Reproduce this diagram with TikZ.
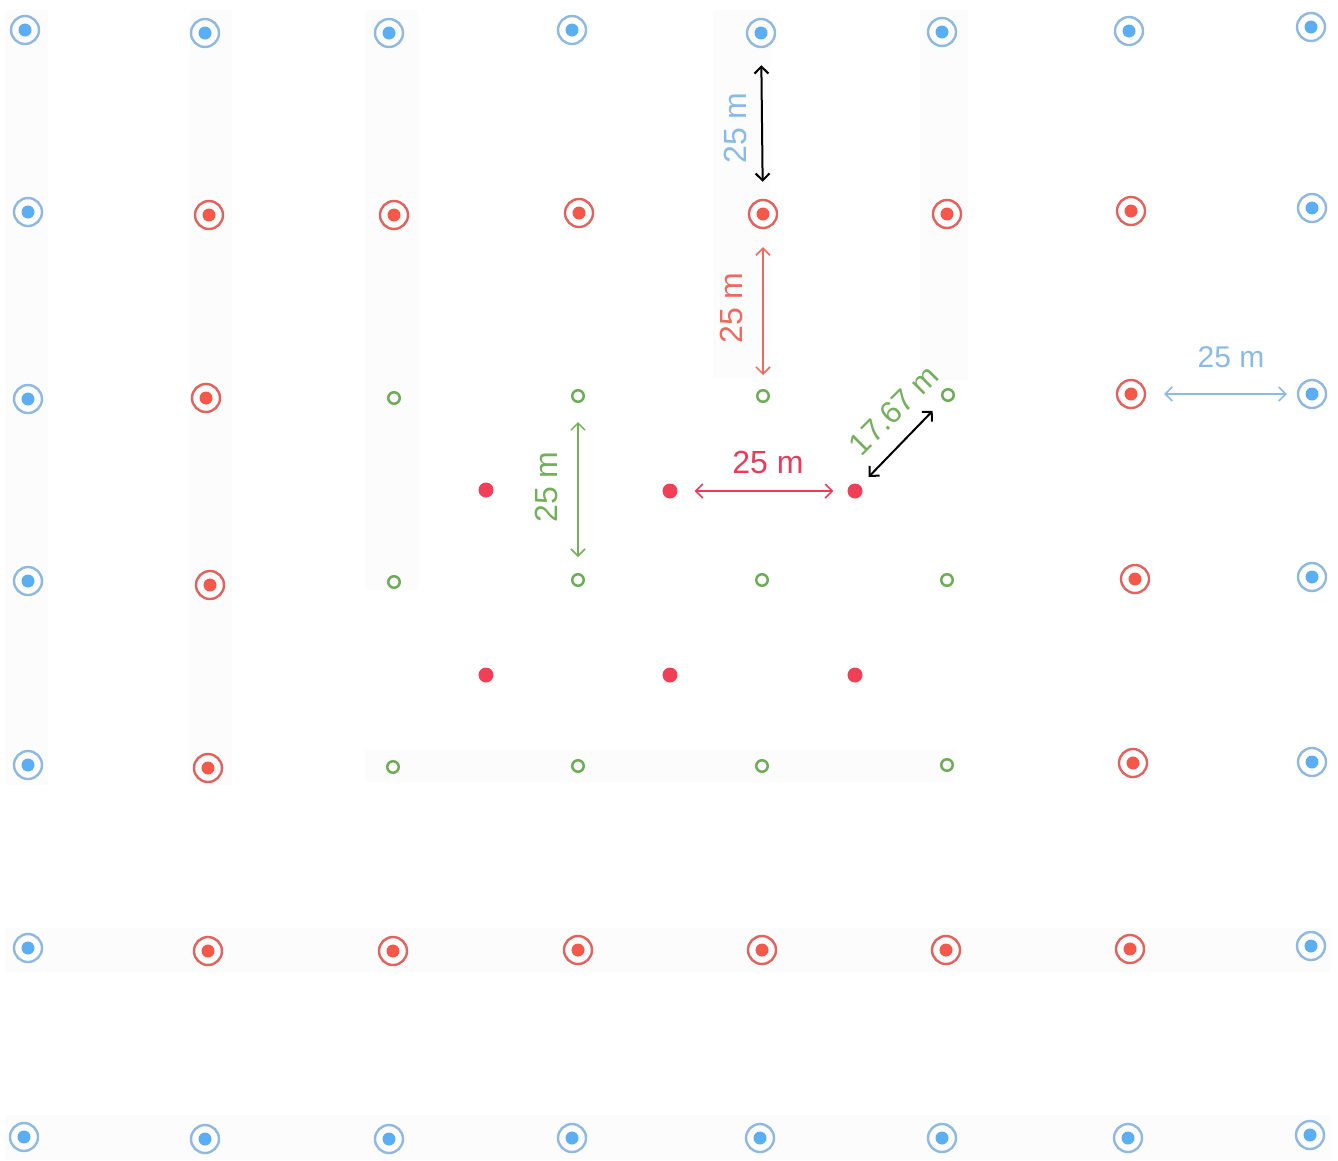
\documentclass[tikz,border=0pt]{standalone}
\usepackage{fontspec}
\setmainfont{Liberation Sans}
\usetikzlibrary{arrows.meta}
\definecolor{bring}{HTML}{8FB9E2}
\definecolor{bdot}{HTML}{5CAEF2}
\definecolor{rring}{HTML}{E2625E}
\definecolor{rdot}{HTML}{F4584A}
\definecolor{gring}{HTML}{6CAE55}
\definecolor{cdot}{HTML}{F23F58}
\definecolor{btext}{HTML}{8ABAE8}
\definecolor{rtext}{HTML}{EE6A5C}
\definecolor{ctext}{HTML}{E83C58}
\definecolor{gtext}{HTML}{72B05A}
\definecolor{band}{HTML}{FCFCFC}
\tikzset{
 well/.style={circle, inner sep=0pt, minimum size=28pt, line width=2.4pt},
 bluept/.style={well, draw=bring, path picture={\fill[bdot] (path picture bounding box.center) circle (6.5pt);}},
 redpt/.style={well, draw=rring, path picture={\fill[rdot] (path picture bounding box.center) circle (6.5pt);}},
 greenpt/.style={circle, inner sep=0pt, minimum size=11.5pt, line width=2.5pt, draw=gring},
 sample/.style={circle, inner sep=0pt, minimum size=15pt, fill=cdot},
 dim/.style={{Straight Barb[length=7pt,width=14pt]}-{Straight Barb[length=7pt,width=14pt]}, line width=1.5pt},
 lbl/.style={font=\fontsize{32}{38}\selectfont, inner sep=0pt},
 bandbox/.style={fill=band, draw=none},
}
\begin{document}
\begin{tikzpicture}[x=1pt,y=-1pt]
\useasboundingbox (0,0) rectangle (1338,1160);
% faint background bands
\fill[bandbox] (5,10) rectangle (48,785);
\fill[bandbox] (190,10) rectangle (232,785);
\fill[bandbox] (365,10) rectangle (418,590);
\fill[bandbox] (713,10) rectangle (770,378);
\fill[bandbox] (920,10) rectangle (968,380);
\fill[bandbox] (365,750) rectangle (955,782);
\fill[bandbox] (5,928) rectangle (1330,972);
\fill[bandbox] (5,1115) rectangle (1330,1160);
% row 1
\node[bluept] (p11) at (25,30) {};
\node[bluept] (p12) at (205,33) {};
\node[bluept] (p13) at (389,33) {};
\node[bluept] (p14) at (572,30) {};
\node[bluept] (p15) at (761,33) {};
\node[bluept] (p16) at (942,32) {};
\node[bluept] (p17) at (1129,31) {};
\node[bluept] (p18) at (1311,27) {};
% row 2
\node[bluept] (p21) at (28,212) {};
\node[redpt] (p22) at (209,215) {};
\node[redpt] (p23) at (394,215) {};
\node[redpt] (p24) at (579,213) {};
\node[redpt] (p25) at (763,214) {};
\node[redpt] (p26) at (947,214) {};
\node[redpt] (p27) at (1131,211) {};
\node[bluept] (p28) at (1312,208) {};
% row 3
\node[bluept] (p31) at (28,399) {};
\node[redpt] (p32) at (206,398) {};
\node[greenpt] (p33) at (394,398) {};
\node[greenpt] (p34) at (578,396) {};
\node[greenpt] (p35) at (763,396) {};
\node[greenpt] (p36) at (948,395) {};
\node[redpt] (p37) at (1131,394) {};
\node[bluept] (p38) at (1312,394) {};
% row 4
\node[bluept] (p41) at (28,581) {};
\node[redpt] (p42) at (210,585) {};
\node[greenpt] (p43) at (394,582) {};
\node[greenpt] (p44) at (578,580) {};
\node[greenpt] (p45) at (762,580) {};
\node[greenpt] (p46) at (947,580) {};
\node[redpt] (p47) at (1135,579) {};
\node[bluept] (p48) at (1312,577) {};
% row 5
\node[bluept] (p51) at (28,765) {};
\node[redpt] (p52) at (208,768) {};
\node[greenpt] (p53) at (393,767) {};
\node[greenpt] (p54) at (578,766) {};
\node[greenpt] (p55) at (762,766) {};
\node[greenpt] (p56) at (947,765) {};
\node[redpt] (p57) at (1133,763) {};
\node[bluept] (p58) at (1312,762) {};
% row 6
\node[bluept] (p61) at (28,948) {};
\node[redpt] (p62) at (208,951) {};
\node[redpt] (p63) at (393,951) {};
\node[redpt] (p64) at (578,950) {};
\node[redpt] (p65) at (762,950) {};
\node[redpt] (p66) at (946,950) {};
\node[redpt] (p67) at (1130,949) {};
\node[bluept] (p68) at (1311,946) {};
% row 7
\node[bluept] (p71) at (24,1137) {};
\node[bluept] (p72) at (205,1139) {};
\node[bluept] (p73) at (389,1139) {};
\node[bluept] (p74) at (572,1138) {};
\node[bluept] (p75) at (760,1138) {};
\node[bluept] (p76) at (942,1138) {};
\node[bluept] (p77) at (1128,1138) {};
\node[bluept] (p78) at (1310,1135) {};
% sample points
\node[sample] (s1) at (486,490) {};
\node[sample] (s2) at (670,491) {};
\node[sample] (s3) at (855,491) {};
\node[sample] (s4) at (486,675) {};
\node[sample] (s5) at (670,675) {};
\node[sample] (s6) at (855,675) {};
% dimension arrows
\draw[dim, black, line width=2pt, shorten <=17pt, shorten >=17pt] (p15) -- (p25);
\draw[dim, rtext, shorten <=18pt, shorten >=14pt] (p25) -- (p35);
\draw[dim, btext, shorten <=18pt, shorten >=10pt] (p37) -- (p38);
\draw[dim, gtext, shorten <=19pt, shorten >=16pt] (p34) -- (p44);
\draw[dim, ctext, shorten <=17pt, shorten >=14pt] (s2) -- (s3);
\draw[dim, black, line width=2pt, shorten <=12pt, shorten >=15pt] (s3) -- (p36);
% labels
\node[lbl, btext, rotate=90] (l1) at (735,128) {25 m};
\node[lbl, rtext, rotate=90] (l2) at (731,308) {25 m};
\node[lbl, btext, font=\fontsize{30}{36}\selectfont] (l3) at (1231,357) {25 m};
\node[lbl, gtext, rotate=90] (l4) at (546,487) {25 m};
\node[lbl, ctext] (l5) at (768,462) {25 m};
\node[lbl, gtext, rotate=45, font=\fontsize{31}{36}\selectfont] (l6) at (894,410) {17.67 m};
\end{tikzpicture}
\end{document}
